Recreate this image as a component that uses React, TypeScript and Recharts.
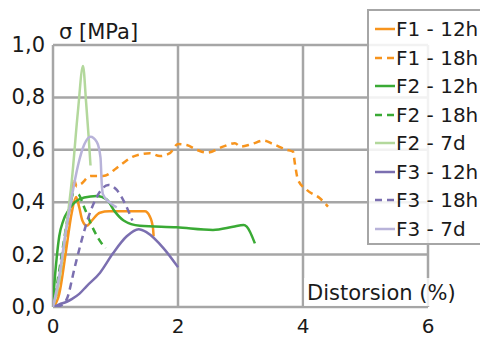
import React from 'react';
import { LineChart, Line, XAxis, YAxis, CartesianGrid } from 'recharts';

// distortion (%) vs stress (MPa)
const f1_12h = [
  { x: 0, y: 0 }, { x: 0.1, y: 0.05 }, { x: 0.2, y: 0.2 }, { x: 0.3, y: 0.36 },
  { x: 0.37, y: 0.42 }, { x: 0.42, y: 0.38 }, { x: 0.47, y: 0.33 }, { x: 0.54, y: 0.31 },
  { x: 0.62, y: 0.33 }, { x: 0.75, y: 0.36 }, { x: 0.9, y: 0.365 }, { x: 1.2, y: 0.365 },
  { x: 1.47, y: 0.365 }, { x: 1.55, y: 0.345 }, { x: 1.6, y: 0.3 }, { x: 1.61, y: 0.27 },
];
const f1_18h = [
  { x: 0, y: 0 }, { x: 0.1, y: 0.08 }, { x: 0.2, y: 0.25 }, { x: 0.28, y: 0.4 },
  { x: 0.33, y: 0.49 }, { x: 0.38, y: 0.46 }, { x: 0.45, y: 0.47 }, { x: 0.6, y: 0.5 },
  { x: 0.8, y: 0.5 }, { x: 1.07, y: 0.54 }, { x: 1.28, y: 0.574 }, { x: 1.55, y: 0.587 },
  { x: 1.71, y: 0.576 }, { x: 1.87, y: 0.587 }, { x: 2.0, y: 0.622 }, { x: 2.14, y: 0.618 },
  { x: 2.3, y: 0.6 }, { x: 2.46, y: 0.589 }, { x: 2.72, y: 0.612 }, { x: 2.91, y: 0.625 },
  { x: 3.0, y: 0.612 }, { x: 3.18, y: 0.622 }, { x: 3.37, y: 0.635 }, { x: 3.52, y: 0.622 },
  { x: 3.74, y: 0.6 }, { x: 3.84, y: 0.593 }, { x: 3.87, y: 0.548 }, { x: 3.92, y: 0.485 },
  { x: 4.06, y: 0.447 }, { x: 4.27, y: 0.415 }, { x: 4.4, y: 0.383 },
];
const f2_12h = [
  { x: 0, y: 0 }, { x: 0.02, y: 0.08 }, { x: 0.06, y: 0.19 }, { x: 0.1, y: 0.27 },
  { x: 0.165, y: 0.33 }, { x: 0.25, y: 0.37 }, { x: 0.35, y: 0.4 }, { x: 0.5, y: 0.418 },
  { x: 0.7, y: 0.424 }, { x: 0.86, y: 0.41 }, { x: 0.99, y: 0.364 }, { x: 1.13, y: 0.33 },
  { x: 1.39, y: 0.31 }, { x: 1.98, y: 0.304 }, { x: 2.56, y: 0.294 }, { x: 2.88, y: 0.306 },
  { x: 3.05, y: 0.313 }, { x: 3.1, y: 0.307 }, { x: 3.23, y: 0.243 },
];
const f2_18h = [
  { x: 0, y: 0 }, { x: 0.06, y: 0.08 }, { x: 0.16, y: 0.23 }, { x: 0.25, y: 0.36 },
  { x: 0.33, y: 0.43 }, { x: 0.4, y: 0.43 }, { x: 0.5, y: 0.38 }, { x: 0.62, y: 0.31 },
  { x: 0.73, y: 0.26 }, { x: 0.84, y: 0.224 },
];
const f2_7d = [
  { x: 0, y: 0 }, { x: 0.1, y: 0.1 }, { x: 0.2, y: 0.28 }, { x: 0.3, y: 0.48 },
  { x: 0.4, y: 0.75 }, { x: 0.48, y: 0.92 }, { x: 0.53, y: 0.78 }, { x: 0.57, y: 0.65 },
  { x: 0.6, y: 0.54 },
];
const f3_12h = [
  { x: 0, y: 0 }, { x: 0.1, y: 0.01 }, { x: 0.22, y: 0.02 }, { x: 0.3, y: 0.03 },
  { x: 0.42, y: 0.05 }, { x: 0.54, y: 0.08 }, { x: 0.75, y: 0.13 }, { x: 0.96, y: 0.205 },
  { x: 1.18, y: 0.27 }, { x: 1.37, y: 0.297 }, { x: 1.5, y: 0.285 }, { x: 1.77, y: 0.224 },
  { x: 2.0, y: 0.152 },
];
const f3_18h = [
  { x: 0.05, y: 0 }, { x: 0.12, y: 0.005 }, { x: 0.22, y: 0.03 }, { x: 0.35, y: 0.154 },
  { x: 0.46, y: 0.256 }, { x: 0.57, y: 0.345 }, { x: 0.68, y: 0.41 }, { x: 0.78, y: 0.45 },
  { x: 0.885, y: 0.466 }, { x: 1.02, y: 0.447 }, { x: 1.15, y: 0.396 }, { x: 1.27, y: 0.33 },
];
const f3_7d = [
  { x: 0, y: 0 }, { x: 0.1, y: 0.12 }, { x: 0.2, y: 0.28 }, { x: 0.3, y: 0.42 },
  { x: 0.4, y: 0.54 }, { x: 0.5, y: 0.62 }, { x: 0.6, y: 0.65 }, { x: 0.7, y: 0.63 },
  { x: 0.76, y: 0.57 }, { x: 0.78, y: 0.47 }, { x: 0.8, y: 0.43 }, { x: 0.9, y: 0.4 },
  { x: 1.02, y: 0.38 },
];

const xTicks = [0, 2, 4, 6];
const yTicks = [0, 0.2, 0.4, 0.6, 0.8, 1.0];

const series = [
  { name: 'F1 - 12h', data: f1_12h, color: '#f7941d', dash: undefined },
  { name: 'F1 - 18h', data: f1_18h, color: '#f7941d', dash: '7 5' },
  { name: 'F2 - 12h', data: f2_12h, color: '#3aaa35', dash: undefined },
  { name: 'F2 - 18h', data: f2_18h, color: '#3aaa35', dash: '7 5' },
  { name: 'F2 - 7d', data: f2_7d, color: '#b3d89c', dash: undefined },
  { name: 'F3 - 12h', data: f3_12h, color: '#7b6fb0', dash: undefined },
  { name: 'F3 - 18h', data: f3_18h, color: '#7b6fb0', dash: '7 5' },
  { name: 'F3 - 7d', data: f3_7d, color: '#b8b3d9', dash: undefined },
];

const FONT = '"DejaVu Sans", sans-serif';
const TEXT = '#1a1a1a';
const GRID = '#a6a6a6';

const fmt = (v: number) => v.toFixed(1).replace('.', ',');

function YTick({ x, y, payload }: any) {
  return (
    <text x={x} y={y} textAnchor="end" dominantBaseline="central" fontSize={21} fontFamily={FONT} fill={TEXT}>
      {fmt(payload.value)}
    </text>
  );
}

function XTick({ x, y, payload }: any) {
  return (
    <text x={x} y={y} dy={26} textAnchor="middle" fontSize={20} fontFamily={FONT} fill={TEXT}>
      {payload.value}
    </text>
  );
}

function YLabel({ viewBox }: any) {
  return (
    <text x={viewBox.x + viewBox.width + 6} y={viewBox.y - 6} fontSize={21} fontFamily={FONT} fill={TEXT}>
      σ [MPa]
    </text>
  );
}

function XLabel({ viewBox }: any) {
  const right = viewBox.x + viewBox.width;
  return (
    <g>
      <rect x={right - 124} y={viewBox.y - 29} width={158} height={28} fill="#fff" fillOpacity={0.8} />
      <text x={right - 121} y={viewBox.y - 7} fontSize={21} fontFamily={FONT} fill={TEXT}>
        Distorsion (%)
      </text>
    </g>
  );
}

function LegendBox() {
  return (
    <div
      style={{
        position: 'absolute', left: 367, top: 9, width: 140, height: 236,
        border: `2px solid ${GRID}`, background: 'rgba(255,255,255,0.85)',
        paddingTop: 4, boxSizing: 'border-box',
      }}
    >
      {series.map((s) => (
        <div key={s.name} style={{ display: 'flex', alignItems: 'center', height: 28.5 }}>
          <svg width={27} height={10} style={{ flex: 'none' }}>
            <line x1={6} x2={26} y1={5} y2={5} stroke={s.color} strokeWidth={2.5} strokeDasharray={s.dash ? '7 5' : undefined} />
          </svg>
          <span style={{ fontFamily: FONT, fontSize: 20, color: TEXT, whiteSpace: 'nowrap', lineHeight: '28px' }}>
            {s.name}
          </span>
        </div>
      ))}
    </div>
  );
}

export default function App() {
  return (
    <div style={{ position: 'absolute', left: 0, top: 0, width: 480, height: 338, overflow: 'hidden', background: '#fff' }}>
      <LineChart width={480} height={338} margin={{ top: 45, right: 52, bottom: 0, left: 0 }}>
        <CartesianGrid stroke={GRID} strokeWidth={2.5} />
        <XAxis
          type="number"
          dataKey="x"
          domain={[0, 6]}
          ticks={xTicks}
          height={31}
          tickSize={0}
          tickMargin={0}
          axisLine={false}
          tickLine={false}
          tick={<XTick />}
          label={{ content: <XLabel /> }}
          allowDataOverflow
        />
        <YAxis
          type="number"
          dataKey="y"
          domain={[0, 1]}
          ticks={yTicks}
          width={53}
          tickSize={0}
          tickMargin={8}
          axisLine={false}
          tickLine={false}
          tick={<YTick />}
          label={{ content: <YLabel /> }}
          allowDataOverflow
        />
        {series.map((s) => (
          <Line
            key={s.name}
            data={s.data}
            dataKey="y"
            name={s.name}
            type="monotone"
            stroke={s.color}
            strokeWidth={2.5}
            strokeDasharray={s.dash}
            dot={false}
            activeDot={false}
            isAnimationActive={false}
          />
        ))}
      </LineChart>
      <LegendBox />
    </div>
  );
}
